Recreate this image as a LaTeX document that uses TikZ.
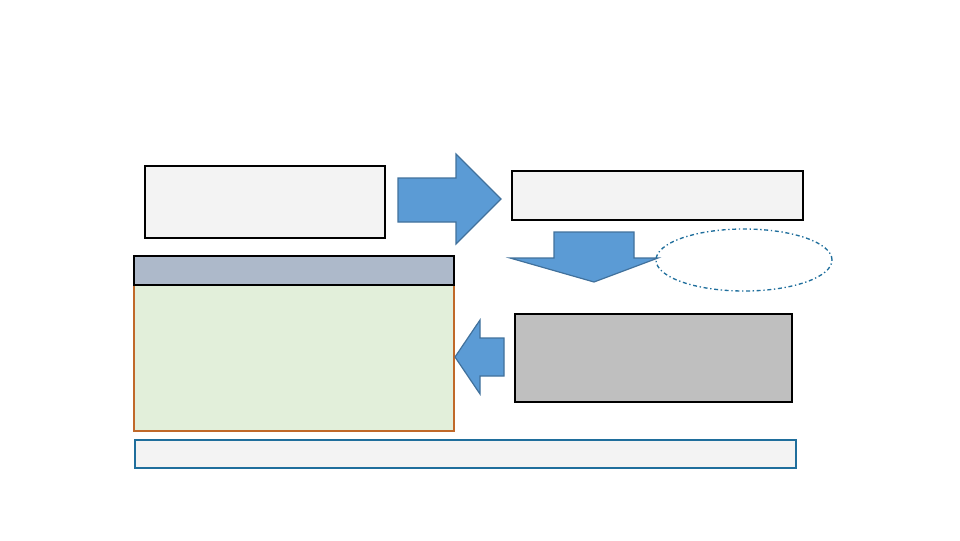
\documentclass[tikz,border=0pt]{standalone}
\usetikzlibrary{shapes.geometric}
\definecolor{boxgray}{HTML}{F3F3F3}
\definecolor{arrowblue}{HTML}{5B9BD5}
\definecolor{arrowedge}{HTML}{41719C}
\definecolor{headblue}{HTML}{ADB9CA}
\definecolor{greenfill}{HTML}{E2EFDA}
\definecolor{orangeedge}{HTML}{C0692A}
\definecolor{midgray}{HTML}{BFBFBF}
\definecolor{tealedge}{HTML}{1F6E9C}
\tikzset{
  px/.style={x=0.75pt,y=-0.75pt},
  plainbox/.style={draw=black, line width=1.5pt, inner sep=0pt, anchor=north west},
  fatarrow/.style={fill=arrowblue, draw=arrowedge, line width=0.9pt, line join=miter},
}
\newcommand{\bx}[6]{% name, x1, y1, x2, y2, style
  \node[#6, minimum width={(#4-#2)*0.75pt}, minimum height={(#5-#3)*0.75pt}] (#1) at (#2,#3) {};}
\begin{document}
\begin{tikzpicture}[px]
\useasboundingbox (0,0) rectangle (960,540);
% top-left box
\bx{boxA}{144}{165}{384}{237}{plainbox, fill=boxgray}
% right arrow
\draw[fatarrow] (398,178) -- (456,178) -- (456,154) -- (501,199) -- (456,244) -- (456,222) -- (398,222) -- cycle;
% top-right box
\bx{boxB}{511}{170}{802}{219}{plainbox, fill=boxgray}
% down arrow
\draw[fatarrow] (554,232) -- (634,232) -- (634,258) -- (658,258) -- (594,282) -- (510,258) -- (554,258) -- cycle;
% dashed ellipse
\node[ellipse, draw=tealedge, line width=1pt, dash dot, minimum width={176*0.75pt}, minimum height={62*0.75pt}, inner sep=0pt] (oval) at (744,260) {};
% green body
\bx{body}{133}{284}{453}{430}{draw=orangeedge, line width=1.4pt, fill=greenfill, inner sep=0pt, anchor=north west}
% header bar
\bx{hdr}{133}{255}{453}{284}{plainbox, fill=headblue}
% left arrow
\draw[fatarrow] (504,338) -- (480,338) -- (480,320) -- (455,357) -- (480,394) -- (480,376) -- (504,376) -- cycle;
% gray box
\bx{boxC}{514}{313}{791}{401}{plainbox, fill=midgray}
% bottom bar
\bx{bottom}{134}{439}{795}{467}{draw=tealedge, line width=1.5pt, fill=boxgray, inner sep=0pt, anchor=north west}
\end{tikzpicture}
\end{document}
